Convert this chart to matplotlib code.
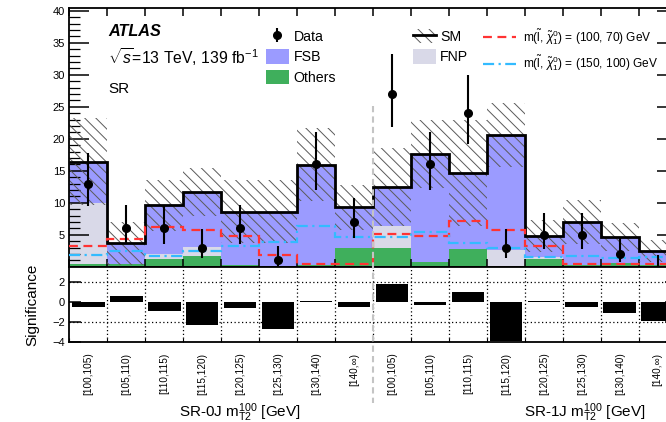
import numpy as np
import matplotlib
matplotlib.use("Agg")
import matplotlib.pyplot as plt
from matplotlib.patches import Patch
from matplotlib.lines import Line2D
from matplotlib.ticker import MultipleLocator, NullLocator
from matplotlib.transforms import blended_transform_factory

plt.rcParams["font.family"] = ["Liberation Sans", "DejaVu Sans"]
plt.rcParams["mathtext.fontset"] = "custom"
plt.rcParams["mathtext.rm"] = "Liberation Sans"
plt.rcParams["mathtext.it"] = "Liberation Sans:italic"
plt.rcParams["mathtext.bf"] = "Liberation Sans:bold"
plt.rcParams["hatch.linewidth"] = 0.7

# ---- yields per m_T2^100 bin: 8 bins of SR-0J followed by 8 bins of SR-1J ----
bin_labels = ["[100,105)", "[105,110)", "[110,115)", "[115,120)",
              "[120,125)", "[125,130)", "[130,140)", "[140,\u221e)"] * 2
regions = ["SR-0J", "SR-1J"]

others = [0.5, 0.5, 1.2, 1.7, 0.2, 0.1, 0.2, 2.9,
          2.9, 0.7, 2.7, 0.1, 1.2, 0.2, 0.6, 0.2]
fnp = [9.4, 0.0, 0.8, 1.4, 0.0, 0.0, 0.0, 0.0,
       3.5, 0.0, 0.1, 2.5, 0.3, 0.0, 0.0, 0.0]
fsb = [6.5, 3.15, 7.6, 8.6, 8.4, 8.5, 15.7, 6.4,
       6.0, 16.9, 11.8, 18.0, 3.3, 6.8, 4.1, 2.3]
sm_unc = [6.8, 3.35, 4.0, 3.8, 4.9, 4.9, 5.7, 3.5,
          6.1, 5.3, 8.3, 5.0, 2.5, 3.4, 2.2, 1.7]

data = [13, 6, 6, 3, 6, 1, 16, 7,
        27, 16, 24, 3, 5, 5, 2, 0]
data_err_lo = [3.58, 2.38, 2.38, 1.63, 2.38, 0.83, 3.96, 2.58,
               5.16, 3.96, 4.86, 1.63, 2.16, 2.16, 1.29, 0.0]
data_err_hi = [4.71, 3.58, 3.58, 2.92, 3.58, 2.30, 5.08, 3.77,
               6.27, 5.08, 5.97, 2.92, 3.38, 3.38, 2.64, 1.84]

sig_100_70 = [3.3, 4.3, 6.2, 5.8, 4.85, 1.9, 0.4, 0.4,
              5.1, 4.85, 7.1, 5.7, 3.2, 0.4, 0.4, 0.4]
sig_150_100 = [1.9, 2.5, 1.6, 2.5, 3.2, 3.9, 6.4, 4.7,
               4.6, 5.4, 3.65, 2.9, 1.5, 1.6, 1.4, 1.5]

significance = [-0.5, 0.63, -0.87, -2.3, -0.57, -2.67, 0.1, -0.5,
                1.77, -0.3, 0.97, -3.87, 0.13, -0.53, -1.1, -1.9]

# ---- styling ----
c_fsb = "#9b9bff"
c_fnp = "#d9d9e8"
c_oth = "#3faf5c"
c_red = "#ff3333"
c_cyan = "#33bbff"
hatch_col = "#5a5a5a"

W, H = 666, 422
def fx(px):
    return px / W
def fy(py):
    return 1 - py / H

fig = plt.figure(figsize=(W / 100, H / 100), dpi=100)
x0, x1 = 69.3, 676.7
ax = fig.add_axes([fx(x0), fy(266.7), (x1 - x0) / W, (266.7 - 7.5) / H])
rax = fig.add_axes([fx(x0), fy(342.3), (x1 - x0) / W, (342.3 - 266.7) / H])

nb = len(data)
edges = np.arange(nb + 1)
left = edges[:-1]
centers = left + 0.5
oth = np.array(others)
fn = np.array(fnp)
fs = np.array(fsb)
sm = oth + fn + fs
unc = np.array(sm_unc)
dat = np.array(data, dtype=float)
elo = np.array(data_err_lo)
ehi = np.array(data_err_hi)

# stacked backgrounds
ax.bar(left, oth, width=1, align="edge", color=c_oth, lw=0, zorder=1)
ax.bar(left, fn, bottom=oth, width=1, align="edge", color=c_fnp, lw=0, zorder=1)
ax.bar(left, fs, bottom=oth + fn, width=1, align="edge", color=c_fsb, lw=0, zorder=1)
# total SM uncertainty band
ax.bar(left, 2 * unc, bottom=sm - unc, width=1, align="edge", fill=False,
       hatch="\\\\\\", edgecolor=hatch_col, lw=0, zorder=2)
ax.stairs(sm, edges, baseline=None, color="black", lw=2, zorder=3)
# signal benchmarks
ax.stairs(sig_100_70, edges, baseline=None, color=c_red, lw=1.6,
          ls=(0, (4, 2.5)), zorder=3)
ax.stairs(sig_150_100, edges, baseline=None, color=c_cyan, lw=1.6,
          ls=(0, (5, 2, 1, 2)), zorder=3)

# data
nz = dat > 0
dcont = ax.errorbar(centers[nz], dat[nz], yerr=[elo[nz], ehi[nz]], fmt="o",
                    color="black", ms=5.5, elinewidth=1.5, capsize=0, zorder=5)
ax.errorbar(centers[~nz], dat[~nz], yerr=[elo[~nz], ehi[~nz]], fmt="none",
            ecolor="black", elinewidth=1.5, capsize=0, zorder=5)

ax.set_xlim(0, nb)
ax.set_ylim(0, 40.5)
ax.set_yticks(np.arange(5, 41, 5))
ax.yaxis.set_minor_locator(MultipleLocator(1))
ax.set_xticks(edges)
ax.xaxis.set_minor_locator(NullLocator())
ax.tick_params(axis="y", which="major", direction="in", length=14.4, width=1.1,
               right=True, labelsize=8, pad=3)
ax.tick_params(axis="y", which="minor", direction="in", length=7.9, width=0.9,
               right=True)
ax.tick_params(axis="x", which="major", direction="in", length=5.5, width=1.1,
               top=True, bottom=True, labelbottom=False)
for s in ax.spines.values():
    s.set_linewidth(1.3)

# significance panel
rax.bar(centers, significance, width=0.86, color="black", zorder=3)
dot = (0, (1, 2))
for e in edges[1:-1]:
    rax.axvline(e, color="black", ls=dot, lw=0.9, zorder=1)
for yv in (2, -2):
    rax.axhline(yv, color="black", ls=dot, lw=0.9, zorder=1)
rax.set_xlim(0, nb)
rax.set_ylim(-4, 3.5)
rax.set_yticks([-4, -2, 0, 2])
rax.yaxis.set_minor_locator(NullLocator())
rax.set_xticks(edges)
rax.set_xticklabels([])
rax.set_xticks(centers, minor=True)
rax.set_xticklabels(bin_labels, minor=True, rotation=90, fontsize=7.2)
rax.tick_params(axis="x", which="minor", length=0, pad=7.5)
rax.tick_params(axis="x", which="major", direction="in", length=3)
rax.tick_params(axis="y", which="major", direction="in", length=8.6, width=1.1,
                right=True, labelsize=8, pad=3)
for s in rax.spines.values():
    s.set_linewidth(1.3)
rax.set_ylabel("Significance", fontsize=11)
rax.yaxis.set_label_coords((39 - x0) / (x1 - x0), 0.5)

# region labels below the bins
for i, reg in enumerate(regions):
    fig.text(fx([240, 585][i]), fy(416.5),
             reg + r" $\mathrm{m}_{\mathrm{T2}}^{\mathrm{100}}$ [GeV]",
             ha="center", va="baseline", fontsize=11)

# boundary between SR-0J and SR-1J
trans = blended_transform_factory(ax.transData, fig.transFigure)
fig.add_artist(Line2D([8, 8], [fy(105.7), fy(403)], transform=trans,
                      color="#c4c4c4", ls=(0, (3, 2)), lw=1.5, zorder=10))

# labels
fig.text(fx(108), fy(31), "ATLAS", fontsize=11.7, fontweight="bold",
         fontstyle="italic", va="center")
fig.text(fx(108), fy(57), r"$\sqrt{s}$=13 TeV, 139 fb$^{-1}$", fontsize=11.3,
         va="center")
fig.text(fx(108), fy(89), "SR", fontsize=11, va="center")

# legends
common = dict(loc="upper left", bbox_transform=fig.transFigure, frameon=False,
              borderpad=0, borderaxespad=0)
leg1 = ax.legend([dcont, Patch(color=c_fsb, lw=0), Patch(color=c_oth, lw=0)],
                 ["Data", "FSB", "Others"], bbox_to_anchor=(fx(266), fy(28.7)),
                 fontsize=10.2, handlelength=1.6, handleheight=1.2,
                 handletextpad=0.35, labelspacing=0.38, **common)
ax.add_artist(leg1)
sm_handle = (Patch(facecolor="none", edgecolor=hatch_col, hatch="\\\\\\", lw=0),
             Line2D([], [], color="black", lw=2))
leg2 = ax.legend([sm_handle, Patch(color=c_fnp, lw=0)], ["SM", "FNP"],
                 bbox_to_anchor=(fx(413), fy(28.7)), fontsize=10.2,
                 handlelength=1.6, handleheight=1.2, handletextpad=0.3,
                 labelspacing=0.38, **common)
ax.add_artist(leg2)
leg3 = ax.legend([Line2D([], [], color=c_red, lw=1.6, ls=(0, (4, 2.5))),
                  Line2D([], [], color=c_cyan, lw=1.6, ls=(0, (5, 2, 1, 2)))],
                 [r"m($\tilde{\mathrm{l}}$, $\tilde{\chi}_{1}^{0}$) = (100, 70) GeV",
                  r"m($\tilde{\mathrm{l}}$, $\tilde{\chi}_{1}^{0}$) = (150, 100) GeV"],
                 bbox_to_anchor=(fx(483), fy(27)), fontsize=8.6,
                 handlelength=2.8, handletextpad=0.55, labelspacing=0.55, **common)

fig.savefig("out.png", dpi=100)
